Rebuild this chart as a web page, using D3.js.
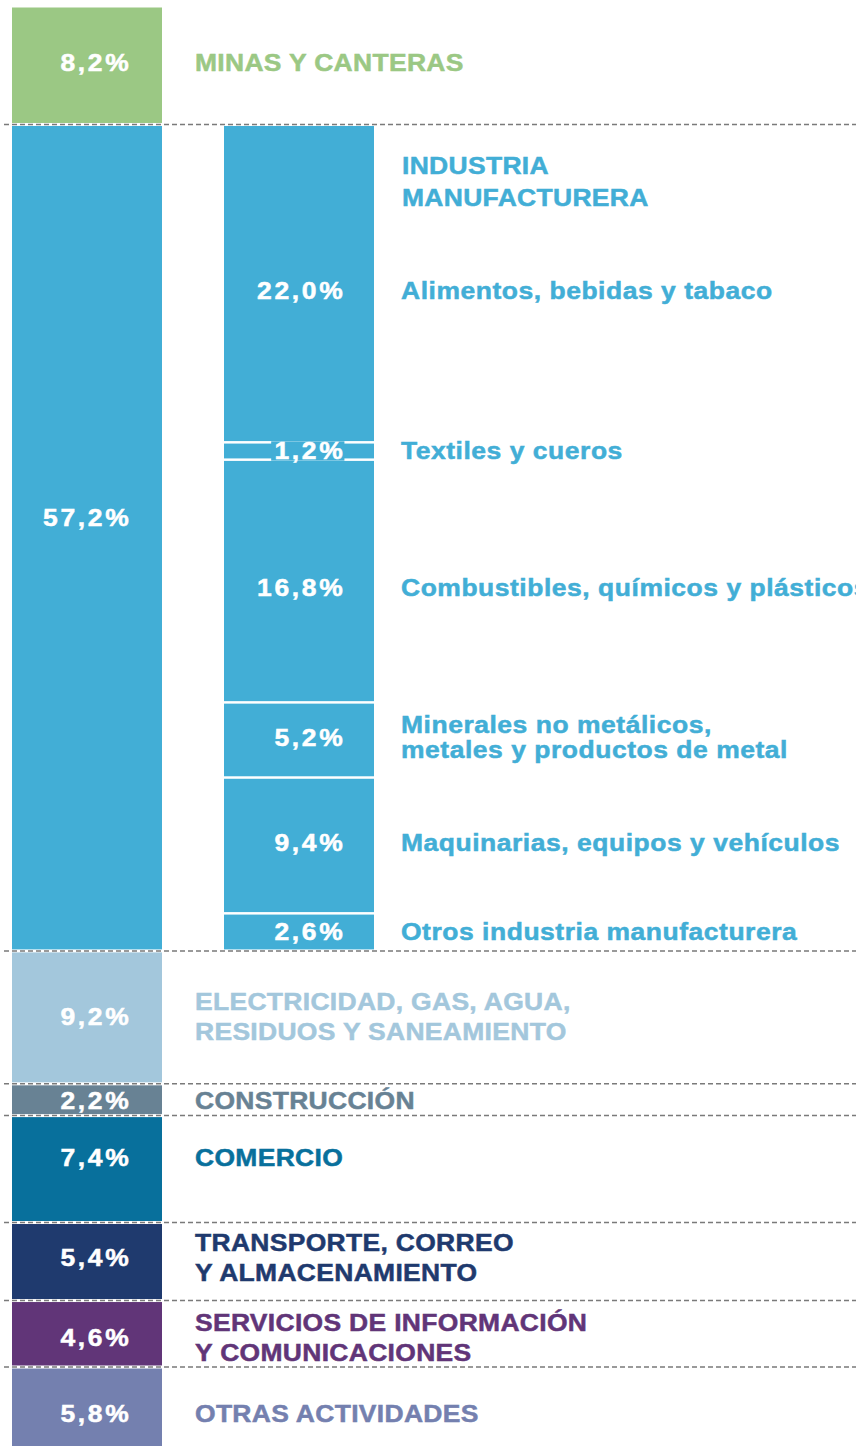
<!DOCTYPE html>
<html>
<head>
<meta charset="utf-8">
<script src="https://cdn.jsdelivr.net/npm/d3@7"></script>
<style>
  html, body { margin: 0; padding: 0; background: #ffffff; }
  svg { display: block; }
  text { font-family: "Liberation Sans", Arial, Helvetica, sans-serif; font-weight: bold; }
</style>
</head>
<body>
<div id="chart"></div>
<script>
// ---------- data ----------
const mainCategories = [
  ["MINAS Y CANTERAS"],
  ["INDUSTRIA", "MANUFACTURERA"],
  ["ELECTRICIDAD, GAS, AGUA,", "RESIDUOS Y SANEAMIENTO"],
  ["CONSTRUCCIÓN"],
  ["COMERCIO"],
  ["TRANSPORTE, CORREO", "Y ALMACENAMIENTO"],
  ["SERVICIOS DE INFORMACIÓN", "Y COMUNICACIONES"],
  ["OTRAS ACTIVIDADES"]
];
const mainValues = [8.2, 57.2, 9.2, 2.2, 7.4, 5.4, 4.6, 5.8];
const mainColors = ["#9bc884", "#42aed6", "#a3c7dc", "#688294", "#08709c", "#1f3a6e", "#613578", "#7480af"];

const subCategories = [
  ["Alimentos, bebidas y tabaco"],
  ["Textiles y cueros"],
  ["Combustibles, químicos y plásticos"],
  ["Minerales no metálicos,", "metales y productos de metal"],
  ["Maquinarias, equipos y vehículos"],
  ["Otros industria manufacturera"]
];
const subValues = [22.0, 1.2, 16.8, 5.2, 9.4, 2.6];
const subParentIndex = 1;

// ---------- layout (not data) ----------
const W = 856, H = 1446;
const mainNudge = [-3, -21, -1, 0, -12, -4, 3, 4];   // label offset from segment centre
const subNudge = [7, -1, 6, -3, -3, -1];
const mainLineHeight = 30, subLineHeight = 25;
const FS = 24.5;
const SX = 1.08;   // horizontal stretch to mimic the wide grotesque typeface

const svg = d3.select("#chart").append("svg")
  .attr("width", W).attr("height", H);

const y = d3.scaleLinear().domain([0, 100]).range([6, 1450.8]);
const x = d3.scaleBand().domain(["main", "sub"]).range([12, 374]).paddingInner(62 / 212);
const bw = x.bandwidth();

const fmt = v => d3.format(".1f")(v).replace(".", ",") + "%";

function stack(vals, start) {
  let c = start;
  return vals.map(v => { const s = c; c += v; return [s, c]; });
}
const mainStack = stack(mainValues, 0);
const subStack = stack(subValues, mainStack[subParentIndex][0]);

const mainData = mainValues.map((v, i) => ({ v, i, s: mainStack[i][0], e: mainStack[i][1], color: mainColors[i], lines: mainCategories[i] }));
const subData = subValues.map((v, i) => ({ v, i, s: subStack[i][0], e: subStack[i][1], color: mainColors[subParentIndex], lines: subCategories[i] }));

// dashed separators between main segments
svg.append("g").selectAll("line")
  .data(mainStack.slice(0, -1))
  .join("line")
  .attr("x1", 4).attr("x2", W)
  .attr("y1", d => y(d[1])).attr("y2", d => y(d[1]))
  .attr("stroke", "#7a7a7a")
  .attr("stroke-width", 1.5)
  .attr("stroke-dasharray", "5,3");

// main bars
const mg = 1.5;
svg.append("g").selectAll("rect")
  .data(mainData)
  .join("rect")
  .attr("x", x("main"))
  .attr("width", bw)
  .attr("y", d => y(d.s) + mg)
  .attr("height", d => y(d.e) - y(d.s) - 2 * mg)
  .attr("fill", d => d.color);

// sub bars
const sg = 1.25;
svg.append("g").selectAll("rect")
  .data(subData)
  .join("rect")
  .attr("x", x("sub"))
  .attr("width", bw)
  .attr("y", d => y(d.s) + (d.i === 0 ? mg : sg))
  .attr("height", d => y(d.e) - y(d.s) - (d.i === 0 ? mg : sg) - (d.i === subData.length - 1 ? mg : sg))
  .attr("fill", d => d.color);

function pctText(g, d, ax, ay, color) {
  return g.append("text")
    .attr("transform", `translate(${ax},${ay}) scale(${SX},1)`)
    .attr("dy", "0.36em")
    .attr("text-anchor", "end")
    .attr("fill", color)
    .attr("stroke", color)
    .attr("stroke-width", 0.5)
    .attr("font-size", FS)
    .attr("letter-spacing", 2.5)
    .text(fmt(d.v));
}

// main percentage labels
const mainPctG = svg.append("g");
mainData.forEach(d => {
  pctText(mainPctG, d, x("main") + bw - 30.5, (y(d.s) + y(d.e)) / 2 + mainNudge[d.i], "#ffffff");
});

// sub percentage labels (thin segment gets a patch so its label breaks the white lines)
const subPctG = svg.append("g");
subData.forEach(d => {
  const segH = y(d.e) - y(d.s);
  const ax = x("sub") + bw - 28.5;
  const t = pctText(subPctG, d, ax, (y(d.s) + y(d.e)) / 2 + subNudge[d.i], "#ffffff");
  if (segH < 25) {
    const bb = t.node().getBBox();
    subPctG.insert("rect", "text")
      .attr("x", ax + (bb.x - 3) * SX)
      .attr("width", (bb.width + 2) * SX)
      .attr("y", y(d.s) - 1)
      .attr("height", segH + 2)
      .attr("fill", d.color);
  }
});

function labelText(lines, lx, cy, lh, color, ls) {
  const n = lines.length;
  const t = svg.append("text")
    .attr("transform", `translate(${lx},0) scale(${SX},1)`)
    .attr("fill", color)
    .attr("stroke", color)
    .attr("stroke-width", 0.5)
    .attr("font-size", FS)
    .attr("letter-spacing", ls);
  lines.forEach((ln, k) => {
    t.append("tspan")
      .attr("x", 0)
      .attr("y", cy + (k - (n - 1) / 2) * lh)
      .attr("dy", "0.36em")
      .text(ln);
  });
}

// category labels (main)
const labelX = 195, subLabelX = 401;
mainData.forEach(d => {
  if (d.i === subParentIndex) {
    labelText(d.lines, subLabelX + 1, y(d.s) + 41 + 16, 32, d.color, 0.3);
  } else {
    labelText(d.lines, labelX, (y(d.s) + y(d.e)) / 2 + mainNudge[d.i], mainLineHeight, d.color, 0.3);
  }
});

// sub labels
subData.forEach(d => {
  labelText(d.lines, subLabelX, (y(d.s) + y(d.e)) / 2 + subNudge[d.i], subLineHeight, d.color, 0.5);
});
</script>
</body>
</html>
